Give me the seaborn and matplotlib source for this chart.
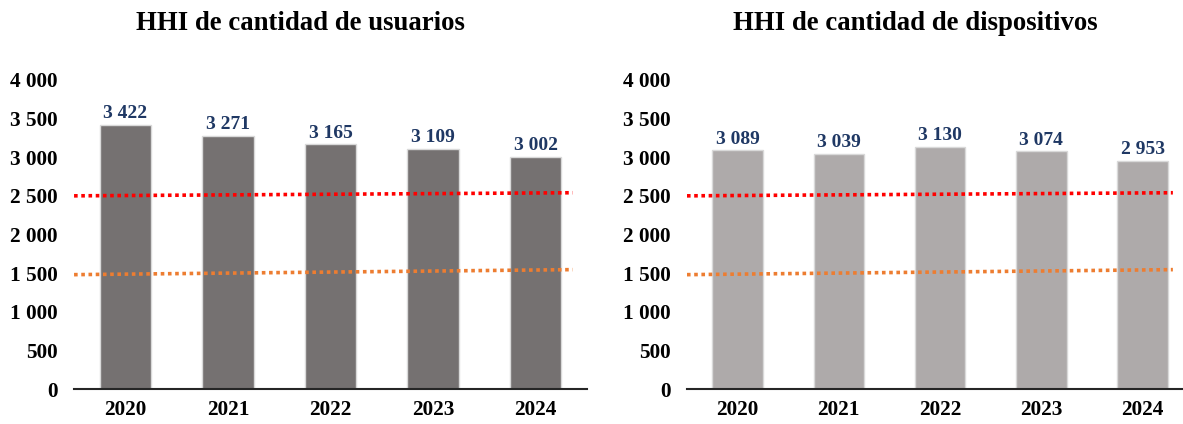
import numpy as np
import pandas as pd
import matplotlib
matplotlib.use("Agg")
import matplotlib.pyplot as plt
import seaborn as sns

# Data
years = ["2020", "2021", "2022", "2023", "2024"]
hhi_usuarios = [3422, 3271, 3165, 3109, 3002]
hhi_dispositivos = [3089, 3039, 3130, 3074, 2953]

# Threshold lines (drawn slightly sloped in the original)
umbral_alto = [2500, 2540]
umbral_medio = [1480, 1545]

yticks = [0, 500, 1000, 1500, 2000, 2500, 3000, 3500, 4000]

sns.set_style("white")
plt.rcParams['font.family'] = ['Liberation Serif', 'DejaVu Serif']
plt.rcParams['font.weight'] = 'bold'
plt.rcParams['text.color'] = 'black'
plt.rcParams['xtick.color'] = 'black'
plt.rcParams['ytick.color'] = 'black'


def fmt_miles(v):
    return f"{v:,.0f}".replace(",", " ")


fig = plt.figure(figsize=(11.83, 4.24), dpi=100)
ax1 = fig.add_axes([0.0626, 0.0825, 0.4336, 0.729])
ax2 = fig.add_axes([0.5807, 0.0825, 0.4193, 0.729])

panels = [
    (ax1, hhi_usuarios, "#757171", (-0.5, 4.5), 4.36),
    (ax2, hhi_dispositivos, "#AEAAAA", (-0.5, 4.4), 4.3),
]

for ax, vals, color, xlim, line_end in panels:
    df = pd.DataFrame({"year": years, "hhi": vals})
    sns.barplot(data=df, x="year", y="hhi", color=color, width=0.5,
                edgecolor="#D9D9D9", linewidth=1, saturation=1, ax=ax)
    ax.bar_label(ax.containers[0], labels=[fmt_miles(v) for v in vals],
                 padding=2, fontsize=14, fontweight="bold", color="#1F3864")

    ax.plot([-0.5, line_end], umbral_alto, color="#FF0000", linestyle=(0, (1, 1)),
            linewidth=2.6, zorder=3)
    ax.plot([-0.5, line_end], umbral_medio, color="#ED7D31", linestyle=(0, (1, 1)),
            linewidth=2.6, zorder=3)

    ax.set_xlim(*xlim)
    ax.set_ylim(0, 4000)
    ax.set_yticks(yticks)
    ax.set_yticklabels([fmt_miles(t) for t in yticks])
    ax.tick_params(axis="both", length=0, labelsize=15.3)
    ax.tick_params(axis="y", pad=12)
    ax.tick_params(axis="x", pad=8)
    for lab in ax.get_xticklabels() + ax.get_yticklabels():
        lab.set_fontweight("bold")
    ax.set_xlabel("")
    ax.set_ylabel("")
    for s in ["top", "right", "left"]:
        ax.spines[s].set_visible(False)
    ax.spines["bottom"].set_color("#262626")
    ax.spines["bottom"].set_linewidth(1.5)

fig.text(0.254, 0.945, "HHI de cantidad de usuarios", ha="center", va="center",
         fontsize=19.3, fontweight="bold")
fig.text(0.774, 0.945, "HHI de cantidad de dispositivos", ha="center", va="center",
         fontsize=19.3, fontweight="bold")

fig.savefig("out.png", dpi=100)
